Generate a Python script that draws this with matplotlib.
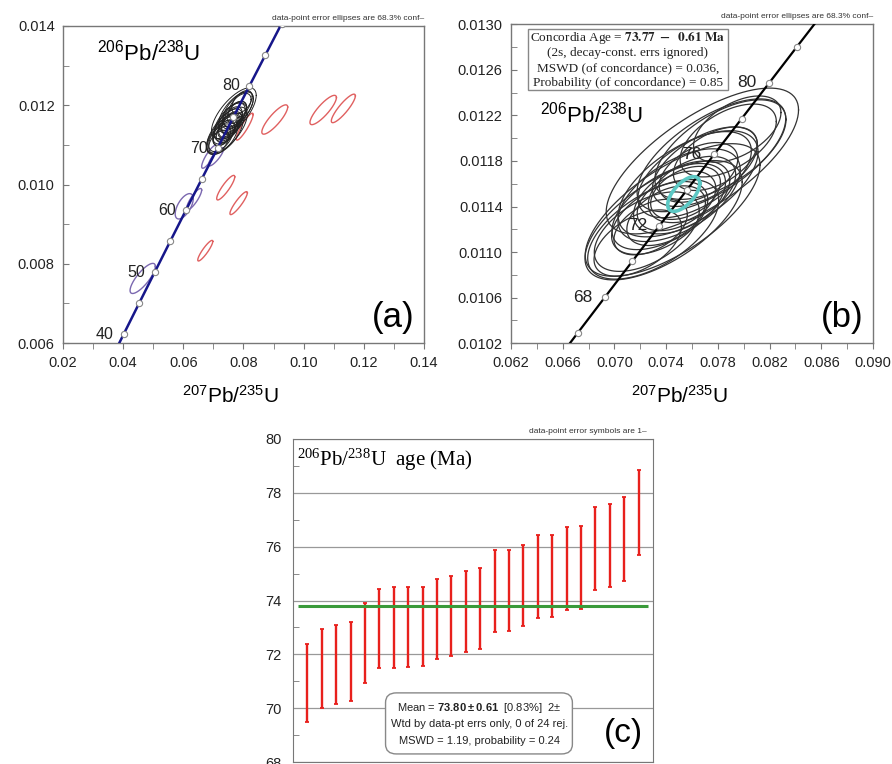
import numpy as np
import matplotlib.pyplot as plt
from matplotlib.ticker import MultipleLocator, FormatStrFormatter
from matplotlib.patches import FancyBboxPatch, Rectangle

plt.rcParams['font.family'] = 'Liberation Sans'
plt.rcParams['mathtext.fontset'] = 'custom'
plt.rcParams['mathtext.default'] = 'regular'
plt.rcParams['mathtext.bf'] = 'Liberation Sans:bold'

# concordia reference points (age Ma, 207Pb/235U, 206Pb/238U)
conc_a_age = [35, 40, 45, 50, 55, 60, 65, 70, 75, 80, 85, 90, 95]
conc_a_x = [0.03507, 0.04018, 0.04532, 0.05048, 0.05566, 0.06087, 0.06611,
            0.07137, 0.07666, 0.08198, 0.08732, 0.09268, 0.09808]
conc_a_y = [0.005444, 0.006224, 0.007005, 0.007786, 0.008568, 0.009351, 0.010134,
            0.010918, 0.011702, 0.012487, 0.013273, 0.014059, 0.014846]
conc_a_labels = [40, 50, 60, 70, 80]

conc_b_age = [64, 66, 68, 70, 72, 74, 76, 78, 80, 82, 84, 86]
conc_b_x = [0.06506, 0.06716, 0.06926, 0.07137, 0.07348, 0.07560, 0.07772,
            0.07985, 0.08198, 0.08411, 0.08625, 0.08839]
conc_b_y = [0.009977, 0.010291, 0.010604, 0.010918, 0.011232, 0.011545, 0.011859,
            0.012173, 0.012487, 0.012802, 0.013116, 0.013430]
conc_b_labels = [68, 72, 76, 80]

# tick values
a_xticks = [0.02, 0.04, 0.06, 0.08, 0.10, 0.12, 0.14]
a_yticks = [0.006, 0.008, 0.010, 0.012, 0.014]
b_xticks = [0.062, 0.066, 0.070, 0.074, 0.078, 0.082, 0.086, 0.090]
b_yticks = [0.0102, 0.0106, 0.0110, 0.0114, 0.0118, 0.0122, 0.0126, 0.0130]
c_yticks = [68, 70, 72, 74, 76, 78, 80]

# concordant analyses: centre, half-extent of the 68.3% ellipse in x and y, rho
grain_x = [0.0745, 0.0768, 0.0738, 0.0775, 0.0730, 0.0782, 0.0757, 0.0750,
           0.0762, 0.0742, 0.0725, 0.0770, 0.0752, 0.0735, 0.0788, 0.0760,
           0.0718, 0.0748, 0.0765, 0.0740, 0.0755, 0.0778, 0.0728, 0.0795]
grain_y = [0.01137, 0.01180, 0.01128, 0.01185, 0.01120, 0.01190, 0.01160, 0.01150,
           0.01168, 0.01140, 0.01118, 0.01175, 0.01148, 0.01130, 0.01198, 0.01155,
           0.01108, 0.01145, 0.01170, 0.01132, 0.01152, 0.01182, 0.01122, 0.01208]
grain_hx = [0.00676, 0.00744, 0.00608, 0.00575, 0.00507, 0.00507, 0.00541, 0.00473,
            0.00439, 0.00439, 0.00406, 0.00406, 0.00372, 0.00372, 0.00372, 0.00338,
            0.00338, 0.00304, 0.00304, 0.00304, 0.00270, 0.00324, 0.00284, 0.00338]
grain_hy = [0.000582, 0.000640, 0.000524, 0.000495, 0.000437, 0.000437, 0.000466, 0.000407,
            0.000378, 0.000378, 0.000349, 0.000349, 0.000320, 0.000320, 0.000320, 0.000291,
            0.000291, 0.000262, 0.000262, 0.000262, 0.000233, 0.000279, 0.000244, 0.000291]
grain_rho = [0.68, 0.70, 0.64, 0.65, 0.58, 0.60, 0.60, 0.55,
             0.55, 0.56, 0.52, 0.55, 0.48, 0.50, 0.52, 0.45,
             0.50, 0.42, 0.45, 0.45, 0.40, 0.48, 0.45, 0.50]

# younger concordant analyses (purple) in panel a
young_x = [0.0465, 0.0603, 0.0636, 0.0686, 0.0709]
young_y = [0.00763, 0.00945, 0.00963, 0.01070, 0.01070]
young_hx = [0.0042, 0.0030, 0.0025, 0.0025, 0.0025]
young_hy = [0.00038, 0.00032, 0.00027, 0.00029, 0.00023]
young_rho = [0.80, 0.60, 0.85, 0.85, 0.85]

# discordant analyses (red) in panel a
disc_x = [0.0804, 0.0904, 0.1065, 0.1132, 0.0741, 0.0784, 0.0673]
disc_y = [0.01146, 0.01164, 0.01188, 0.01192, 0.00992, 0.00953, 0.00833]
disc_hx = [0.0028, 0.0043, 0.0044, 0.0040, 0.0030, 0.0029, 0.0025]
disc_hy = [0.00034, 0.00037, 0.00037, 0.00036, 0.00031, 0.00029, 0.00026]
disc_rho = [0.90, 0.85, 0.85, 0.88, 0.88, 0.90, 0.90]

# concordia age ellipse
cage_x, cage_y, cage_hx, cage_hy, cage_rho = 0.07536, 0.01151, 0.00124, 0.000152, 0.62

# weighted mean 206Pb/238U ages (Ma)
age_lo = [69.49, 70.01, 70.15, 70.26, 70.94, 71.48, 71.51, 71.54, 71.58, 71.84, 71.92, 72.10,
          72.20, 72.82, 72.85, 73.04, 73.36, 73.39, 73.65, 73.68, 74.38, 74.49, 74.74, 75.68]
age_hi = [72.38, 72.94, 73.09, 73.19, 73.90, 74.44, 74.49, 74.50, 74.50, 74.81, 74.90, 75.09,
          75.20, 75.87, 75.87, 76.08, 76.43, 76.45, 76.74, 76.77, 77.49, 77.58, 77.84, 78.86]
mean_age = 73.80

ratio_label = r'$^{206}$Pb/$^{238}$U'
xratio_label = r'$^{207}$Pb/$^{235}$U'


def draw_ellipse(ax, cx, cy, hx, hy, rho, **kw):
    t = np.linspace(0, 2 * np.pi, 200)
    u, v = np.cos(t), np.sin(t)
    ax.plot(cx + hx * u, cy + hy * (rho * u + np.sqrt(1 - rho ** 2) * v), **kw)


def style_axes(ax):
    for s in ax.spines.values():
        s.set_color('#777777')
        s.set_linewidth(1.0)
    ax.tick_params(axis='x', which='both', direction='out', length=4, color='#777777',
                   labelsize=10.5, labelcolor='#222222', pad=5)
    ax.tick_params(axis='y', which='both', direction='in', length=4, color='#777777',
                   labelsize=10.5, labelcolor='#222222', pad=6)


fig = plt.figure(figsize=(8.92, 7.64), dpi=100)

# ---- panel (a)
ax1 = fig.add_axes([0.0706, 0.551, 0.4047, 0.415])
for i in range(len(disc_x)):
    draw_ellipse(ax1, disc_x[i], disc_y[i], disc_hx[i], disc_hy[i], disc_rho[i],
                 color='#e06060', lw=1.0)
for i in range(len(young_x)):
    draw_ellipse(ax1, young_x[i], young_y[i], young_hx[i], young_hy[i], young_rho[i],
                 color='#7b68b0', lw=1.0)
for i in range(len(grain_x)):
    draw_ellipse(ax1, grain_x[i], grain_y[i], grain_hx[i], grain_hy[i], grain_rho[i],
                 color='#222222', lw=0.7)
ax1.plot(conc_a_x, conc_a_y, color='#16168a', lw=1.8, zorder=3)
ax1.plot(conc_a_x, conc_a_y, 'o', ms=4.5, mfc='white', mec='#888888', mew=0.8, zorder=4)
for age, x, y in zip(conc_a_age, conc_a_x, conc_a_y):
    if age in conc_a_labels:
        ax1.annotate(str(age), (x, y), xytext=(-7, 0), textcoords='offset points',
                     ha='right', va='center', fontsize=11.5, color='#222222')
ax1.set_xlim(0.02, 0.14)
ax1.set_ylim(0.006, 0.014)
ax1.set_xticks(a_xticks)
ax1.set_yticks(a_yticks)
ax1.xaxis.set_minor_locator(MultipleLocator(0.01))
ax1.yaxis.set_minor_locator(MultipleLocator(0.001))
ax1.xaxis.set_major_formatter(FormatStrFormatter('%.2f'))
ax1.yaxis.set_major_formatter(FormatStrFormatter('%.3f'))
style_axes(ax1)
ax1.text(0.094, 0.915, ratio_label, transform=ax1.transAxes, fontsize=16, va='center')
ax1.text(0.975, 0.03, '(a)', transform=ax1.transAxes, fontsize=25, ha='right', va='bottom')
ax1.text(1.0, 1.012, 'data-point error ellipses are 68.3% conf–', transform=ax1.transAxes,
         fontsize=6, ha='right', va='bottom', color='#333333')
fig.text(0.258, 0.482, xratio_label, fontsize=15, ha='center', va='center')

# ---- panel (b)
ax2 = fig.add_axes([0.5729, 0.5507, 0.4058, 0.4175])
for i in range(len(grain_x)):
    draw_ellipse(ax2, grain_x[i], grain_y[i], grain_hx[i], grain_hy[i], grain_rho[i],
                 color='#333333', lw=0.9)
ax2.plot(conc_b_x, conc_b_y, color='black', lw=1.6, zorder=3)
ax2.plot(conc_b_x, conc_b_y, 'o', ms=4.5, mfc='white', mec='#888888', mew=0.8, zorder=4)
draw_ellipse(ax2, cage_x, cage_y, cage_hx, cage_hy, cage_rho, color='#5cc8c4', lw=2.6, zorder=5)
for age, x, y in zip(conc_b_age, conc_b_x, conc_b_y):
    if age in conc_b_labels:
        ax2.annotate(str(age), (x, y), xytext=(-9, 0), textcoords='offset points',
                     ha='right', va='center', fontsize=12.5, color='#222222')
ax2.set_xlim(0.062, 0.090)
ax2.set_ylim(0.0102, 0.0130)
ax2.set_xticks(b_xticks)
ax2.set_yticks(b_yticks)
ax2.xaxis.set_minor_locator(MultipleLocator(0.002))
ax2.yaxis.set_minor_locator(MultipleLocator(0.0002))
ax2.xaxis.set_major_formatter(FormatStrFormatter('%.3f'))
ax2.yaxis.set_major_formatter(FormatStrFormatter('%.4f'))
style_axes(ax2)
ax2.text(0.08, 0.716, ratio_label, transform=ax2.transAxes, fontsize=16, va='center')
ax2.text(0.975, 0.03, '(b)', transform=ax2.transAxes, fontsize=25, ha='right', va='bottom')
ax2.text(1.0, 1.012, 'data-point error ellipses are 68.3% conf–', transform=ax2.transAxes,
         fontsize=6, ha='right', va='bottom', color='#333333')
ax2.add_patch(Rectangle((0.046, 0.794), 0.554, 0.19, transform=ax2.transAxes,
                        fc='white', ec='#888888', lw=1.0, zorder=6))
box_lines = [r'Concordia Age = $\mathbf{73.77\ -\ \ 0.61\ Ma}$',
             '(2s, decay-const. errs ignored)',
             'MSWD (of concordance) = 0.036,',
             'Probability (of concordance) = 0.85']
for line, yy in zip(box_lines, [0.958, 0.909, 0.862, 0.815]):
    ax2.text(0.323, yy, line, transform=ax2.transAxes, ha='center', va='center',
             fontsize=9.5, family='Liberation Serif', math_fontfamily='stix',
             color='#222222', zorder=7)
fig.text(0.762, 0.482, xratio_label, fontsize=15, ha='center', va='center')

# ---- panel (c)
ax3 = fig.add_axes([0.3285, 0.0026, 0.4036, 0.4228])
idx = np.arange(1, len(age_lo) + 1)
lo = np.array(age_lo)
hi = np.array(age_hi)
ax3.errorbar(idx, (lo + hi) / 2, yerr=(hi - lo) / 2, fmt='none', ecolor='#e8201c',
             elinewidth=1.7, capsize=1.6, capthick=1.3, zorder=3)
ax3.hlines(mean_age, 0.35, 24.65, color='#3a9a3a', lw=2.2, zorder=4)
ax3.set_xlim(0, 25)
ax3.set_ylim(68, 80)
ax3.set_yticks(c_yticks)
ax3.yaxis.set_minor_locator(MultipleLocator(1))
ax3.set_xticks([])
ax3.grid(axis='y', which='major', color='#999999', lw=0.9)
ax3.set_axisbelow(True)
for s in ax3.spines.values():
    s.set_color('#777777')
ax3.tick_params(axis='y', which='both', direction='in', length=4, color='#777777',
                labelsize=10.5, labelcolor='#222222', pad=8)
ax3.tick_params(axis='y', which='major', length=0)
ax3.text(0.011, 0.935, r'$^{206}$Pb/$^{238}$U  age (Ma)', transform=ax3.transAxes,
         fontsize=15, family='Liberation Serif', va='center')
ax3.text(0.983, 1.012, 'data-point error symbols are 1–', transform=ax3.transAxes,
         fontsize=6, ha='right', va='bottom', color='#333333')
ax3.text(0.972, 0.04, '(c)', transform=ax3.transAxes, fontsize=24, ha='right', va='bottom')
ax3.add_patch(FancyBboxPatch((0.257, 0.025), 0.519, 0.189, transform=ax3.transAxes,
                             boxstyle='round,pad=0,rounding_size=0.03',
                             fc='white', ec='#888888', lw=1.0, zorder=6))
mean_lines = [r'Mean = $\mathbf{73.80\pm0.61}$  [0.83%]  2±',
              'Wtd by data-pt errs only, 0 of 24 rej.',
              'MSWD = 1.19, probability = 0.24']
for line, yy in zip(mean_lines, [0.168, 0.117, 0.065]):
    ax3.text(0.517, yy, line, transform=ax3.transAxes, ha='center', va='center',
             fontsize=8, color='#222222', zorder=7)

fig.savefig('out.png', dpi=100)
